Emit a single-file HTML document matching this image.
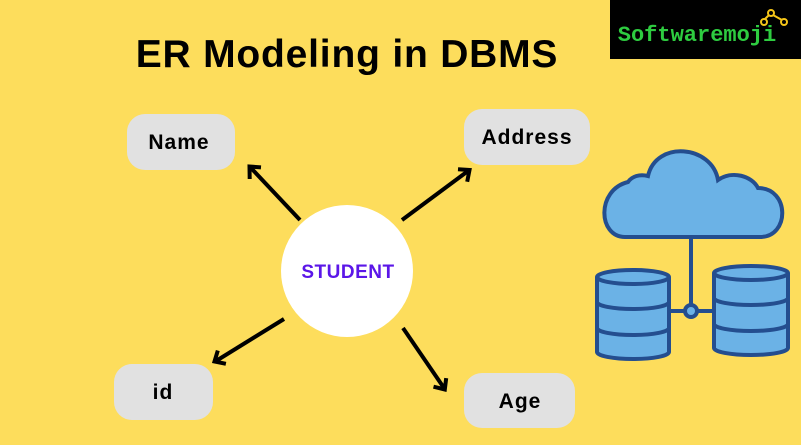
<!DOCTYPE html>
<html><head><meta charset="utf-8"><style>
body{margin:0;width:801px;height:445px;overflow:hidden;background:#FDDD5C;font-family:"Liberation Sans",sans-serif}
</style></head><body>
<svg width="801" height="445" xmlns="http://www.w3.org/2000/svg" style="position:absolute;left:0;top:0">
<rect x="0" y="0" width="801" height="445" fill="#FDDD5C"/>
<rect x="610" y="0" width="191" height="59" fill="#000"/>
<text x="697" y="41" text-anchor="middle" font-family="Liberation Mono,monospace" font-weight="bold" font-size="22" fill="#2ECC40">Softwaremoji</text>
<g stroke="#F5C518" stroke-width="2" fill="none"><circle cx="771" cy="13" r="3"/><circle cx="764" cy="22" r="3"/><circle cx="784" cy="22" r="3"/><path d="M769,15 L765,19 M773,15 L782,20"/></g>
<text x="347" y="67" text-anchor="middle" font-weight="bold" font-size="39" letter-spacing="0.8" fill="#000">ER Modeling in DBMS</text>
<g fill="#E1E1E1"><rect x="127" y="114" width="108" height="56" rx="18"/><rect x="464" y="109" width="126" height="56" rx="18"/><rect x="114" y="364" width="99" height="56" rx="18"/><rect x="464" y="373" width="111" height="55" rx="18"/></g>
<g font-weight="bold" font-size="21" fill="#000" text-anchor="middle" letter-spacing="1"><text x="179" y="149">Name</text><text x="527" y="144">Address</text><text x="163" y="399">id</text><text x="520" y="408">Age</text></g>
<circle cx="347" cy="271" r="66" fill="#fff"/>
<text x="348" y="278" text-anchor="middle" font-weight="bold" font-size="19" letter-spacing="0.5" fill="#5B16E8">STUDENT</text>
<g stroke="#000" stroke-width="4" fill="none" stroke-linecap="butt">
<line x1="300" y1="220" x2="251" y2="168"/><polyline points="249.7,179 249.5,166.5 261,167.4"/>
<line x1="402" y1="220" x2="468" y2="171"/><polyline points="458,169.2 469.5,170 467.2,181.7"/>
<line x1="284" y1="319" x2="216" y2="361"/><polyline points="225.9,363.8 214.5,361.5 217.8,350.6"/>
<line x1="403" y1="328" x2="444" y2="388"/><polyline points="446.2,378.1 444.8,389.5 433.5,386.7"/>
</g>
<g stroke="#244E8F" stroke-width="4" fill="#6BB2E6">
<path d="M625,237 C598,237 596,190 628,182 C632,176 640,174 648,176 C656,140 712,145 718,180 C732,170 752,176 758,188 C790,188 790,237 760,237 Z"/>
<line x1="691" y1="237" x2="691" y2="311" fill="none"/>
<line x1="669" y1="311" x2="713" y2="311" fill="none"/>
<circle cx="691" cy="311" r="6"/>
<path d="M597,277 L597,352 A36,7 0 0 0 669,352 L669,277"/><ellipse cx="633" cy="277" rx="36" ry="7"/>
<path d="M597,302 A36,7 0 0 0 669,302 M597,328 A36,7 0 0 0 669,328" fill="none"/>
<path d="M714,273 L714,348 A37,7 0 0 0 788,348 L788,273"/><ellipse cx="751" cy="273" rx="37" ry="7"/>
<path d="M714,298 A37,7 0 0 0 788,298 M714,324 A37,7 0 0 0 788,324" fill="none"/>
</g>
</svg>
</body></html>
